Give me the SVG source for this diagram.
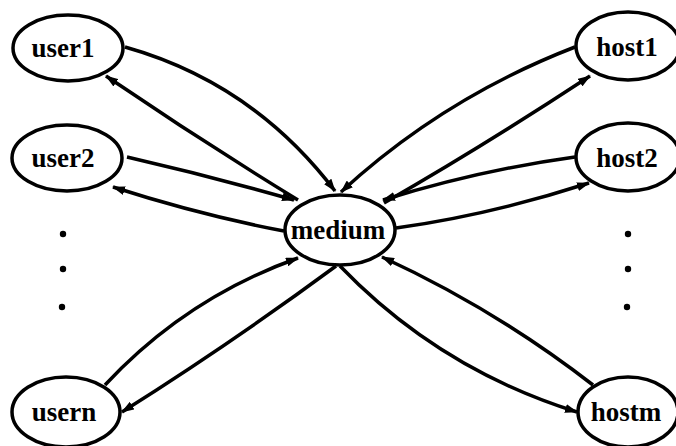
<svg xmlns="http://www.w3.org/2000/svg" width="676" height="446" viewBox="0 0 676 446">
<defs>
<marker id="ah" markerUnits="userSpaceOnUse" markerWidth="13" markerHeight="9" refX="12" refY="4.5" orient="auto">
<path d="M0,0 L13,4.5 L0,9 z" fill="#000"/>
</marker>
<style>
.node ellipse{fill:#fff;stroke:#000;stroke-width:3.5}
.edge{fill:none;stroke:#000;stroke-width:3.5;marker-end:url(#ah)}
.dot{fill:#000}
</style>
</defs>
<rect width="676" height="446" fill="#fff"/>
<g id="connectors">
<path class="edge" d="M125,47 Q253,83 335,191"/>
<path class="edge" d="M298,200 Q200,140 106,76"/>
<path class="edge" d="M127,157 Q210,176 294,200"/>
<path class="edge" d="M284,231 Q200,215 113,187"/>
<path class="edge" d="M575,47 Q443,98 341,192"/>
<path class="edge" d="M384,203 Q482,147 590,76"/>
<path class="edge" d="M575,157 Q480,170 383,200"/>
<path class="edge" d="M396,228 Q490,215 589,183"/>
<path class="edge" d="M105,385 Q186,298 298,258"/>
<path class="edge" d="M336,266 Q233,342 122,412"/>
<path class="edge" d="M593,385 Q495,309 382,257"/>
<path class="edge" d="M340,266 Q439,369 577,412"/>
</g>
<g font-family="'Liberation Serif', 'DejaVu Serif', serif" font-weight="bold" font-size="27" text-anchor="middle" fill="#000">
<g id="user1" class="node"><ellipse cx="68" cy="48" rx="55" ry="33"/><text x="63" y="57">user1</text></g>
<g id="user2" class="node"><ellipse cx="67" cy="158" rx="55" ry="33"/><text x="63" y="167">user2</text></g>
<g id="usern" class="node"><ellipse cx="66" cy="412" rx="54" ry="35"/><text x="64" y="421">usern</text></g>
<g id="medium" class="node"><ellipse cx="340" cy="230" rx="55" ry="35"/><text x="338" y="239">medium</text></g>
<g id="host1" class="node"><ellipse cx="628" cy="46" rx="52" ry="34"/><text x="627" y="56">host1</text></g>
<g id="host2" class="node"><ellipse cx="628" cy="157" rx="52" ry="34"/><text x="627" y="167">host2</text></g>
<g id="hostm" class="node"><ellipse cx="628" cy="412" rx="50" ry="35"/><text x="626" y="421">hostm</text></g>
</g>
<g id="dots-left"><circle class="dot" cx="63" cy="234" r="3.2"/><circle class="dot" cx="63" cy="269" r="3.2"/><circle class="dot" cx="62" cy="307" r="3.2"/></g>
<g id="dots-right"><circle class="dot" cx="628" cy="234" r="3.2"/><circle class="dot" cx="628" cy="269" r="3.2"/><circle class="dot" cx="627" cy="307" r="3.2"/></g>
</svg>
